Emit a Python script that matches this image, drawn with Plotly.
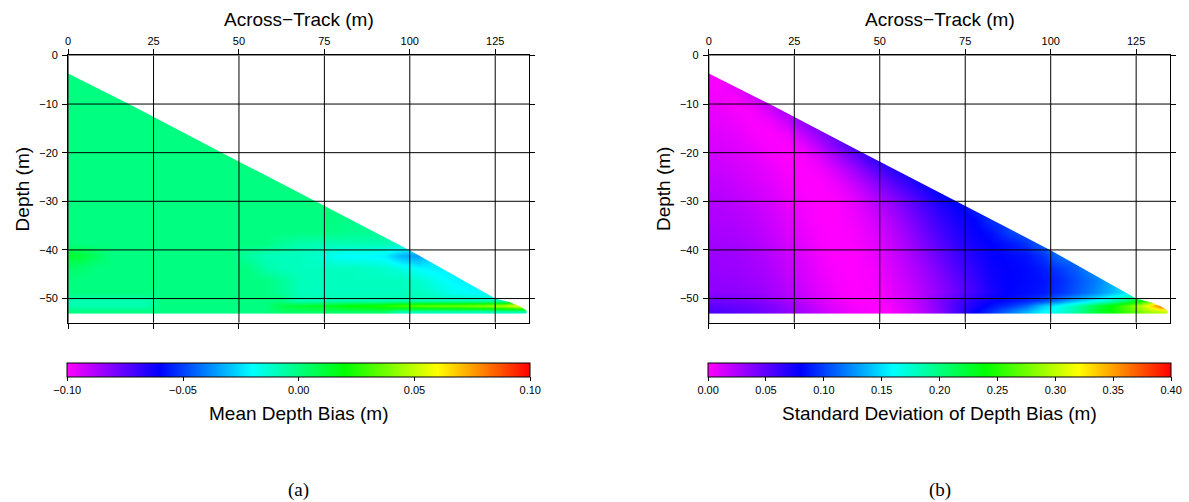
import plotly.graph_objects as go

W, H = 1189, 502

# ---------------- data ----------------
across_track = [2.5, 7.5, 12.5, 17.5, 22.5, 27.5, 32.5, 37.5, 42.5, 47.5, 52.5, 57.5,
                62.5, 67.5, 72.5, 77.5, 82.5, 87.5, 92.5, 97.5, 102.5, 107.5, 112.5,
                117.5, 122.5, 127.5, 132.5]
depth_rows = [-3.75, -6.25, -8.75, -11.25, -13.75, -16.25, -18.75, -21.25, -23.75,
              -26.25, -28.75, -31.25, -33.75, -36.25, -38.75, -41.25, -43.75, -46.25,
              -48.75, -50.5, -51.5, -52.6]

mean_bias = [
    [0.0],
    [0.0, 0.0, 0.0],
    [0.0, 0.0, 0.0, 0.0],
    [0.0, 0.0, 0.0, 0.0, 0.0],
    [0.0, 0.0, 0.0, 0.0, 0.0, 0.0, 0.0],
    [0.0, 0.0, 0.0, 0.0, 0.0, 0.0, 0.0, 0.0],
    [0.0, 0.0, 0.0, 0.0, 0.0, 0.0, 0.0, 0.0, 0.0],
    [0.0, 0.0, 0.0, 0.0, 0.0, 0.0, 0.0, 0.0, 0.0, 0.0, 0.0],
    [0.0, 0.0, 0.0, 0.0, 0.0, 0.0, 0.0, 0.0, 0.0, 0.0, 0.0, 0.0],
    [0.0, 0.0, 0.0, 0.0, 0.0, 0.0, 0.0, 0.0, 0.0, 0.0, 0.0, 0.0, 0.0, 0.0],
    [0.0, 0.0, 0.0, 0.0, 0.0, 0.0, 0.0, 0.0, 0.0, 0.0, 0.0, 0.0, 0.0, 0.0, 0.0],
    [0.0, 0.0, 0.0, 0.0, 0.0, 0.0, 0.0, 0.0, 0.0, 0.0, 0.0, 0.0, 0.0, 0.0, 0.0, 0.0],
    [0.0, 0.0, 0.0, 0.0, 0.0, 0.0, 0.0, 0.0, 0.0, 0.0, 0.0, 0.0, 0.0, 0.0, 0.0, 0.0, -0.002],
    [0.0, 0.0, 0.0, 0.0, 0.0, 0.0, 0.0, 0.0, 0.0, 0.0, 0.0, 0.0, 0.0, 0.0, 0.0, -0.001,
     -0.002, -0.003, -0.003],
    [0.0, 0.0, 0.0, 0.0, 0.0, 0.0, 0.0, 0.0, 0.0, 0.0, 0.0, 0.0, -0.004, -0.007, -0.008,
     -0.008, -0.008, -0.008, -0.008, -0.010],
    [0.012, 0.006, 0.0, 0.0, 0.0, 0.0, 0.0, 0.0, 0.0, 0.0, -0.005, -0.009, -0.010, -0.010,
     -0.012, -0.018, -0.020, -0.020, -0.022, -0.032, -0.035],
    [0.003, 0.0, 0.0, 0.0, 0.0, 0.0, 0.0, 0.0, 0.0, 0.0, 0.0, -0.006, -0.009, -0.010,
     -0.010, -0.010, -0.010, -0.011, -0.012, -0.015, -0.020, -0.022, -0.022],
    [0.0, 0.0, 0.0, 0.0, 0.0, 0.0, 0.0, 0.0, 0.0, 0.0, 0.0, 0.0, -0.004, -0.009, -0.010,
     -0.010, -0.010, -0.010, -0.010, -0.010, -0.012, -0.017, -0.021, -0.022],
    [0.0, 0.0, 0.0, 0.0, 0.0, 0.0, 0.0, 0.0, 0.0, 0.0, 0.0, 0.0, -0.004, -0.009, -0.010,
     -0.010, -0.010, -0.010, -0.010, -0.010, -0.010, -0.013, -0.018, -0.020, -0.021, -0.021],
    [-0.008, -0.008, -0.008, -0.008, -0.008, 0.0, 0.0, 0.0, 0.0, 0.0, 0.0, 0.0, 0.0,
     -0.008, -0.008, -0.008, -0.008, -0.008, -0.008, -0.008, -0.008, -0.008, -0.008,
     -0.008, -0.008, -0.010, 0.020],
    [-0.007, -0.007, -0.007, -0.007, -0.007, 0.0, 0.0, 0.0, 0.0, 0.0, 0.0, 0.0, 0.008,
     0.012, 0.014, 0.016, 0.020, 0.022, 0.025, 0.032, 0.035, 0.037, 0.038, 0.040, 0.043,
     0.050, 0.060],
    [0.0, 0.0, 0.0, 0.0, 0.0, 0.0, 0.0, 0.0, 0.0, 0.0, 0.0, 0.0, 0.004, 0.004, 0.004,
     0.004, 0.004, 0.004, 0.004, -0.009, -0.009, -0.009, -0.009, -0.009, -0.009, -0.009,
     -0.009],
]

std_bias = [
    [0.003],
    [0.002, 0.008, 0.020],
    [0.004, 0.002, 0.012, 0.025],
    [0.007, 0.003, 0.002, 0.012, 0.028],
    [0.008, 0.005, 0.001, 0.003, 0.015, 0.033, 0.045],
    [0.010, 0.008, 0.003, 0.0, 0.004, 0.018, 0.035, 0.050],
    [0.012, 0.010, 0.006, 0.002, 0.0, 0.006, 0.022, 0.040, 0.058],
    [0.015, 0.012, 0.009, 0.004, 0.0, 0.0, 0.010, 0.025, 0.042, 0.062, 0.072],
    [0.017, 0.014, 0.011, 0.007, 0.002, 0.0, 0.003, 0.014, 0.028, 0.045, 0.062, 0.075],
    [0.020, 0.017, 0.013, 0.009, 0.004, 0.0, 0.0, 0.006, 0.018, 0.032, 0.048, 0.063,
     0.076, 0.085],
    [0.022, 0.020, 0.016, 0.012, 0.006, 0.001, 0.0, 0.002, 0.010, 0.022, 0.036, 0.050,
     0.064, 0.077, 0.088],
    [0.024, 0.022, 0.019, 0.014, 0.008, 0.003, 0.0, 0.0, 0.006, 0.016, 0.028, 0.042,
     0.056, 0.068, 0.078, 0.090],
    [0.025, 0.024, 0.021, 0.016, 0.010, 0.004, 0.0, 0.0, 0.004, 0.012, 0.023, 0.036,
     0.050, 0.063, 0.073, 0.080, 0.095],
    [0.027, 0.026, 0.023, 0.018, 0.012, 0.006, 0.001, 0.0, 0.002, 0.009, 0.019, 0.031,
     0.045, 0.058, 0.070, 0.078, 0.085, 0.100, 0.110],
    [0.029, 0.028, 0.025, 0.020, 0.014, 0.008, 0.002, 0.0, 0.001, 0.007, 0.016, 0.027,
     0.040, 0.053, 0.065, 0.074, 0.080, 0.086, 0.095, 0.110],
    [0.031, 0.030, 0.027, 0.023, 0.017, 0.010, 0.004, 0.0, 0.0, 0.005, 0.013, 0.023,
     0.035, 0.048, 0.060, 0.070, 0.078, 0.082, 0.085, 0.095, 0.115],
    [0.032, 0.031, 0.029, 0.025, 0.019, 0.012, 0.005, 0.001, 0.0, 0.003, 0.010, 0.020,
     0.030, 0.042, 0.055, 0.066, 0.076, 0.080, 0.082, 0.088, 0.098, 0.110, 0.128],
    [0.034, 0.033, 0.031, 0.027, 0.021, 0.014, 0.007, 0.002, 0.0, 0.002, 0.008, 0.017,
     0.027, 0.038, 0.050, 0.062, 0.074, 0.080, 0.082, 0.085, 0.093, 0.105, 0.118, 0.135],
    [0.036, 0.035, 0.033, 0.029, 0.023, 0.016, 0.009, 0.003, 0.0, 0.001, 0.006, 0.014,
     0.024, 0.035, 0.047, 0.060, 0.072, 0.080, 0.083, 0.087, 0.095, 0.108, 0.122, 0.138,
     0.155, 0.175],
    [0.045, 0.043, 0.040, 0.035, 0.028, 0.020, 0.012, 0.005, 0.001, 0.0, 0.005, 0.014,
     0.026, 0.040, 0.055, 0.068, 0.078, 0.084, 0.090, 0.100, 0.118, 0.140, 0.158, 0.180,
     0.210, 0.250, 0.300],
    [0.050, 0.048, 0.045, 0.040, 0.033, 0.024, 0.015, 0.007, 0.002, 0.0, 0.003, 0.012,
     0.025, 0.040, 0.058, 0.072, 0.085, 0.095, 0.110, 0.140, 0.162, 0.185, 0.215, 0.240,
     0.270, 0.310, 0.370],
    [0.055, 0.052, 0.048, 0.043, 0.036, 0.027, 0.018, 0.010, 0.004, 0.001, 0.0, 0.010,
     0.022, 0.038, 0.058, 0.078, 0.095, 0.115, 0.135, 0.158, 0.170, 0.190, 0.220, 0.240,
     0.260, 0.285, 0.300],
]

# outer (upper/right) edge of the swath coverage
swath_edge_x = [0.0, 17.8, 45.0, 72.5, 99.8, 125.0, 129.5, 132.5, 134.2, 134.2, 133.8]
swath_edge_y = [-3.7, -10.0, -20.0, -30.0, -40.0, -50.0, -50.8, -51.7, -52.5, -53.0, -53.2]

x_ticks = [0, 25, 50, 75, 100, 125]
y_ticks = [0, -10, -20, -30, -40, -50]
x_range = [0, 135]
y_range = [-55, 0]

bias_ticks = [-0.10, -0.05, 0.00, 0.05, 0.10]
std_ticks = [0.00, 0.05, 0.10, 0.15, 0.20, 0.25, 0.30, 0.35, 0.40]

rainbow = [[0.0, "#FF00FF"], [0.2, "#0000FF"], [0.4, "#00FFFF"],
           [0.6, "#00FF00"], [0.8, "#FFFF00"], [1.0, "#FF0000"]]

SANS = "Liberation Sans, Arial, Helvetica, sans-serif"
SERIF = "Liberation Serif, Times New Roman, serif"


def pad(rows):
    n = len(across_track)
    return [r + [None] * (n - len(r)) for r in rows]


# ---------------- geometry (pixels) ----------------
px_left = [(65.3, 527.7), (707.6, 1170.3)]
py_top, py_bot = 50.0, 320.7

fig = go.Figure()

panels = [
    ("x", "y", "coloraxis", pad(mean_bias)),
    ("x2", "y2", "coloraxis2", pad(std_bias)),
]

mask_x = [-2.0, -2.0] + swath_edge_x + [138.0, 138.0]
mask_y = [2.0, swath_edge_y[0]] + swath_edge_y + [swath_edge_y[-1], 2.0]

for xa, ya, ca, z in panels:
    fig.add_trace(go.Heatmap(
        x=across_track, y=depth_rows, z=z, coloraxis=ca,
        zsmooth="best", connectgaps=True, xaxis=xa, yaxis=ya,
        hoverinfo="skip"))
    fig.add_trace(go.Scatter(
        x=mask_x, y=mask_y, mode="lines", fill="toself",
        fillcolor="white", line=dict(width=0, color="white"),
        xaxis=xa, yaxis=ya, hoverinfo="skip", showlegend=False))

axis_common = dict(
    showgrid=False, zeroline=False, showline=True, linecolor="black",
    linewidth=1, mirror="ticks", ticks="outside", ticklen=5,
    tickcolor="black", tickwidth=1,
    tickfont=dict(family=SANS, size=11, color="black"),
)

ydom = [1 - py_bot / H, 1 - py_top / H]
for i, (l, r) in enumerate(px_left):
    sfx = "" if i == 0 else str(i + 1)
    fig.layout["xaxis" + sfx] = dict(
        axis_common, domain=[l / W, r / W], range=x_range, side="top",
        tickmode="array", tickvals=x_ticks, anchor="y" + sfx)
    fig.layout["yaxis" + sfx] = dict(
        axis_common, domain=ydom, range=y_range,
        tickmode="array", tickvals=y_ticks, anchor="x" + sfx,
        ticklabelstandoff=2)

shapes = []
for i in range(2):
    xr = "x" if i == 0 else "x2"
    yr = "y" if i == 0 else "y2"
    for t in x_ticks:
        shapes.append(dict(type="line", xref=xr, yref=yr, x0=t, x1=t,
                           y0=y_range[0], y1=y_range[1], layer="above",
                           line=dict(color="black", width=1)))
    for t in y_ticks:
        shapes.append(dict(type="line", xref=xr, yref=yr, x0=x_range[0],
                           x1=x_range[1], y0=t, y1=t, layer="above",
                           line=dict(color="black", width=1)))


def cbar(cx, tickvals):
    return dict(
        orientation="h", thickness=14, lenmode="pixels", len=462.5,
        x=cx, xanchor="center", y=1 - 361 / H, yanchor="top",
        xpad=0, ypad=0, outlinewidth=1, outlinecolor="black",
        ticks="outside", ticklen=4, tickcolor="black",
        tickmode="array", tickvals=tickvals, tickformat=".2f",
        tickfont=dict(family=SANS, size=11, color="black"))


cx = [((l + r) / 2) / W for l, r in px_left]

fig.update_layout(
    width=W, height=H, margin=dict(l=0, r=0, t=0, b=0),
    paper_bgcolor="white", plot_bgcolor="white", showlegend=False,
    coloraxis=dict(colorscale=rainbow, cmin=-0.1, cmax=0.1,
                   colorbar=cbar(cx[0], bias_ticks)),
    coloraxis2=dict(colorscale=rainbow, cmin=0.0, cmax=0.4,
                    colorbar=cbar(cx[1], std_ticks)),
    shapes=shapes,
)

annotations = []
for i, (l, r) in enumerate(px_left):
    c = ((l + r) / 2) / W
    annotations.append(dict(text="Across−Track (m)", x=c, y=1 - 14 / H,
                            xref="paper", yref="paper", showarrow=False,
                            xanchor="center", yanchor="middle",
                            font=dict(family=SANS, size=19, color="black")))
    annotations.append(dict(text="Depth (m)", x=(l - 46) / W,
                            y=1 - ((py_top + py_bot) / 2) / H,
                            xref="paper", yref="paper", showarrow=False,
                            textangle=-90, xanchor="center", yanchor="middle",
                            font=dict(family=SANS, size=19, color="black")))
annotations.append(dict(text="Mean Depth Bias (m)", x=cx[0], y=1 - 412.7 / H,
                        xref="paper", yref="paper", showarrow=False,
                        xanchor="center", yanchor="middle",
                        font=dict(family=SANS, size=19, color="black")))
annotations.append(dict(text="Standard Deviation of Depth Bias (m)", x=cx[1],
                        y=1 - 412.7 / H, xref="paper", yref="paper",
                        showarrow=False, xanchor="center", yanchor="middle",
                        font=dict(family=SANS, size=19, color="black")))
annotations.append(dict(text="(a)", x=cx[0], y=1 - 490 / H, xref="paper",
                        yref="paper", showarrow=False, xanchor="center",
                        yanchor="middle",
                        font=dict(family=SERIF, size=19, color="black")))
annotations.append(dict(text="(b)", x=cx[1], y=1 - 490 / H, xref="paper",
                        yref="paper", showarrow=False, xanchor="center",
                        yanchor="middle",
                        font=dict(family=SERIF, size=19, color="black")))
fig.update_layout(annotations=annotations)

# pin the graph to the page's top-left corner (no default body margin)
pin_js = (
    "document.body.style.margin='0';"
    "document.body.style.overflow='hidden';"
    "var gd=document.getElementById('{plot_id}');"
    "gd.style.position='fixed';gd.style.left='0px';gd.style.top='0px';"
)
fig.write_html("out.html", post_script=pin_js,
               config={"displayModeBar": False, "staticPlot": True})
